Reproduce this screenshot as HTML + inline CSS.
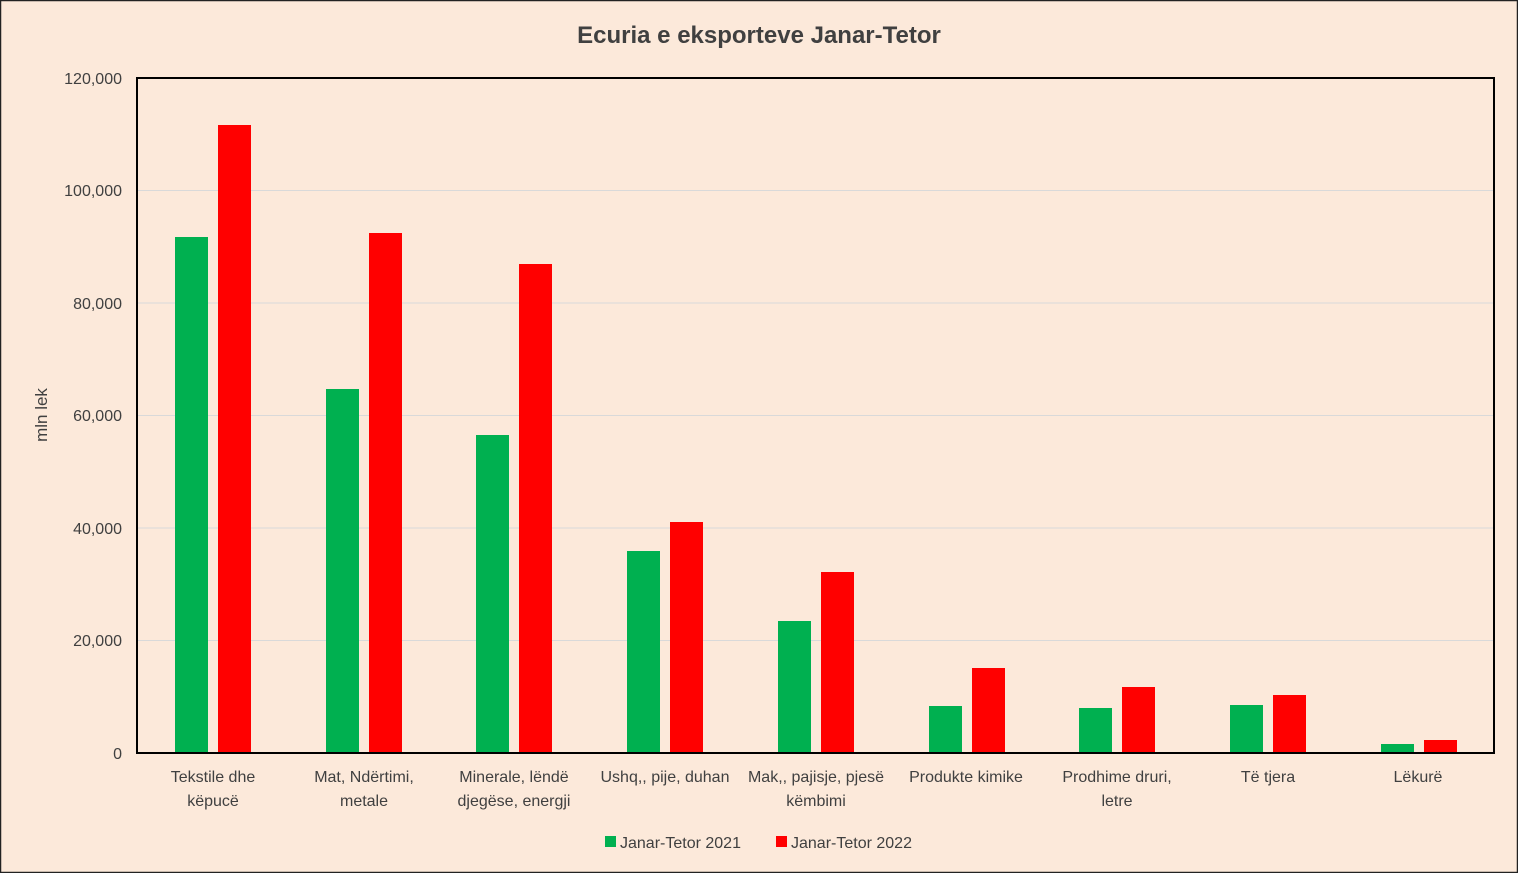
<!DOCTYPE html>
<html><head><meta charset="utf-8"><style>
body{margin:0;background:#fff}
svg{display:block}
text{font-family:"Liberation Sans",sans-serif;fill:#404040}
</style></head><body>
<svg width="1518" height="873" xmlns="http://www.w3.org/2000/svg">
<rect x="0.5" y="0.5" width="1517" height="872" fill="#FCE9DA" stroke="#222" stroke-width="1.5"/>
<text x="759" y="43" text-anchor="middle" font-size="24" font-weight="bold" fill="#595959">Ecuria e eksporteve Janar-Tetor</text>
<g stroke="#d9d9d9" stroke-width="1">
<line x1="137" x2="1494" y1="190.5" y2="190.5"/>
<line x1="137" x2="1494" y1="303" y2="303"/>
<line x1="137" x2="1494" y1="415.5" y2="415.5"/>
<line x1="137" x2="1494" y1="528" y2="528"/>
<line x1="137" x2="1494" y1="640.5" y2="640.5"/>
</g>
<g font-size="16" text-anchor="end">
<text x="122" y="84">120,000</text>
<text x="122" y="196">100,000</text>
<text x="122" y="309">80,000</text>
<text x="122" y="421">60,000</text>
<text x="122" y="534">40,000</text>
<text x="122" y="646">20,000</text>
<text x="122" y="759">0</text>
</g>
<text transform="translate(47,415) rotate(-90)" text-anchor="middle" font-size="17">mln lek</text>
<g fill="#00B050">
<rect x="175" y="237" width="33" height="516"/>
<rect x="326" y="389" width="33" height="364"/>
<rect x="476" y="435" width="33" height="318"/>
<rect x="627" y="551" width="33" height="202"/>
<rect x="778" y="621" width="33" height="132"/>
<rect x="929" y="706" width="33" height="47"/>
<rect x="1079" y="708" width="33" height="45"/>
<rect x="1230" y="705" width="33" height="48"/>
<rect x="1381" y="744" width="33" height="9"/>
</g>
<g fill="#FF0000">
<rect x="218" y="125" width="33" height="628"/>
<rect x="369" y="233" width="33" height="520"/>
<rect x="519" y="264" width="33" height="489"/>
<rect x="670" y="522" width="33" height="231"/>
<rect x="821" y="572" width="33" height="181"/>
<rect x="972" y="668" width="33" height="85"/>
<rect x="1122" y="687" width="33" height="66"/>
<rect x="1273" y="695" width="33" height="58"/>
<rect x="1424" y="740" width="33" height="13"/>
</g>
<rect x="137" y="78" width="1357" height="675" fill="none" stroke="#000" stroke-width="2"/>
<g font-size="16" text-anchor="middle">
<text x="213" y="782">Tekstile dhe</text><text x="213" y="806">këpucë</text>
<text x="364" y="782">Mat, Ndërtimi,</text><text x="364" y="806">metale</text>
<text x="514" y="782">Minerale, lëndë</text><text x="514" y="806">djegëse, energji</text>
<text x="665" y="782">Ushq,, pije, duhan</text>
<text x="816" y="782">Mak,, pajisje, pjesë</text><text x="816" y="806">këmbimi</text>
<text x="966" y="782">Produkte kimike</text>
<text x="1117" y="782">Prodhime druri,</text><text x="1117" y="806">letre</text>
<text x="1268" y="782">Të tjera</text>
<text x="1418" y="782">Lëkurë</text>
</g>
<rect x="605" y="836" width="11" height="11" fill="#00B050"/>
<text x="620" y="848" font-size="16">Janar-Tetor 2021</text>
<rect x="776" y="836" width="11" height="11" fill="#FF0000"/>
<text x="791" y="848" font-size="16">Janar-Tetor 2022</text>
</svg>
</body></html>
